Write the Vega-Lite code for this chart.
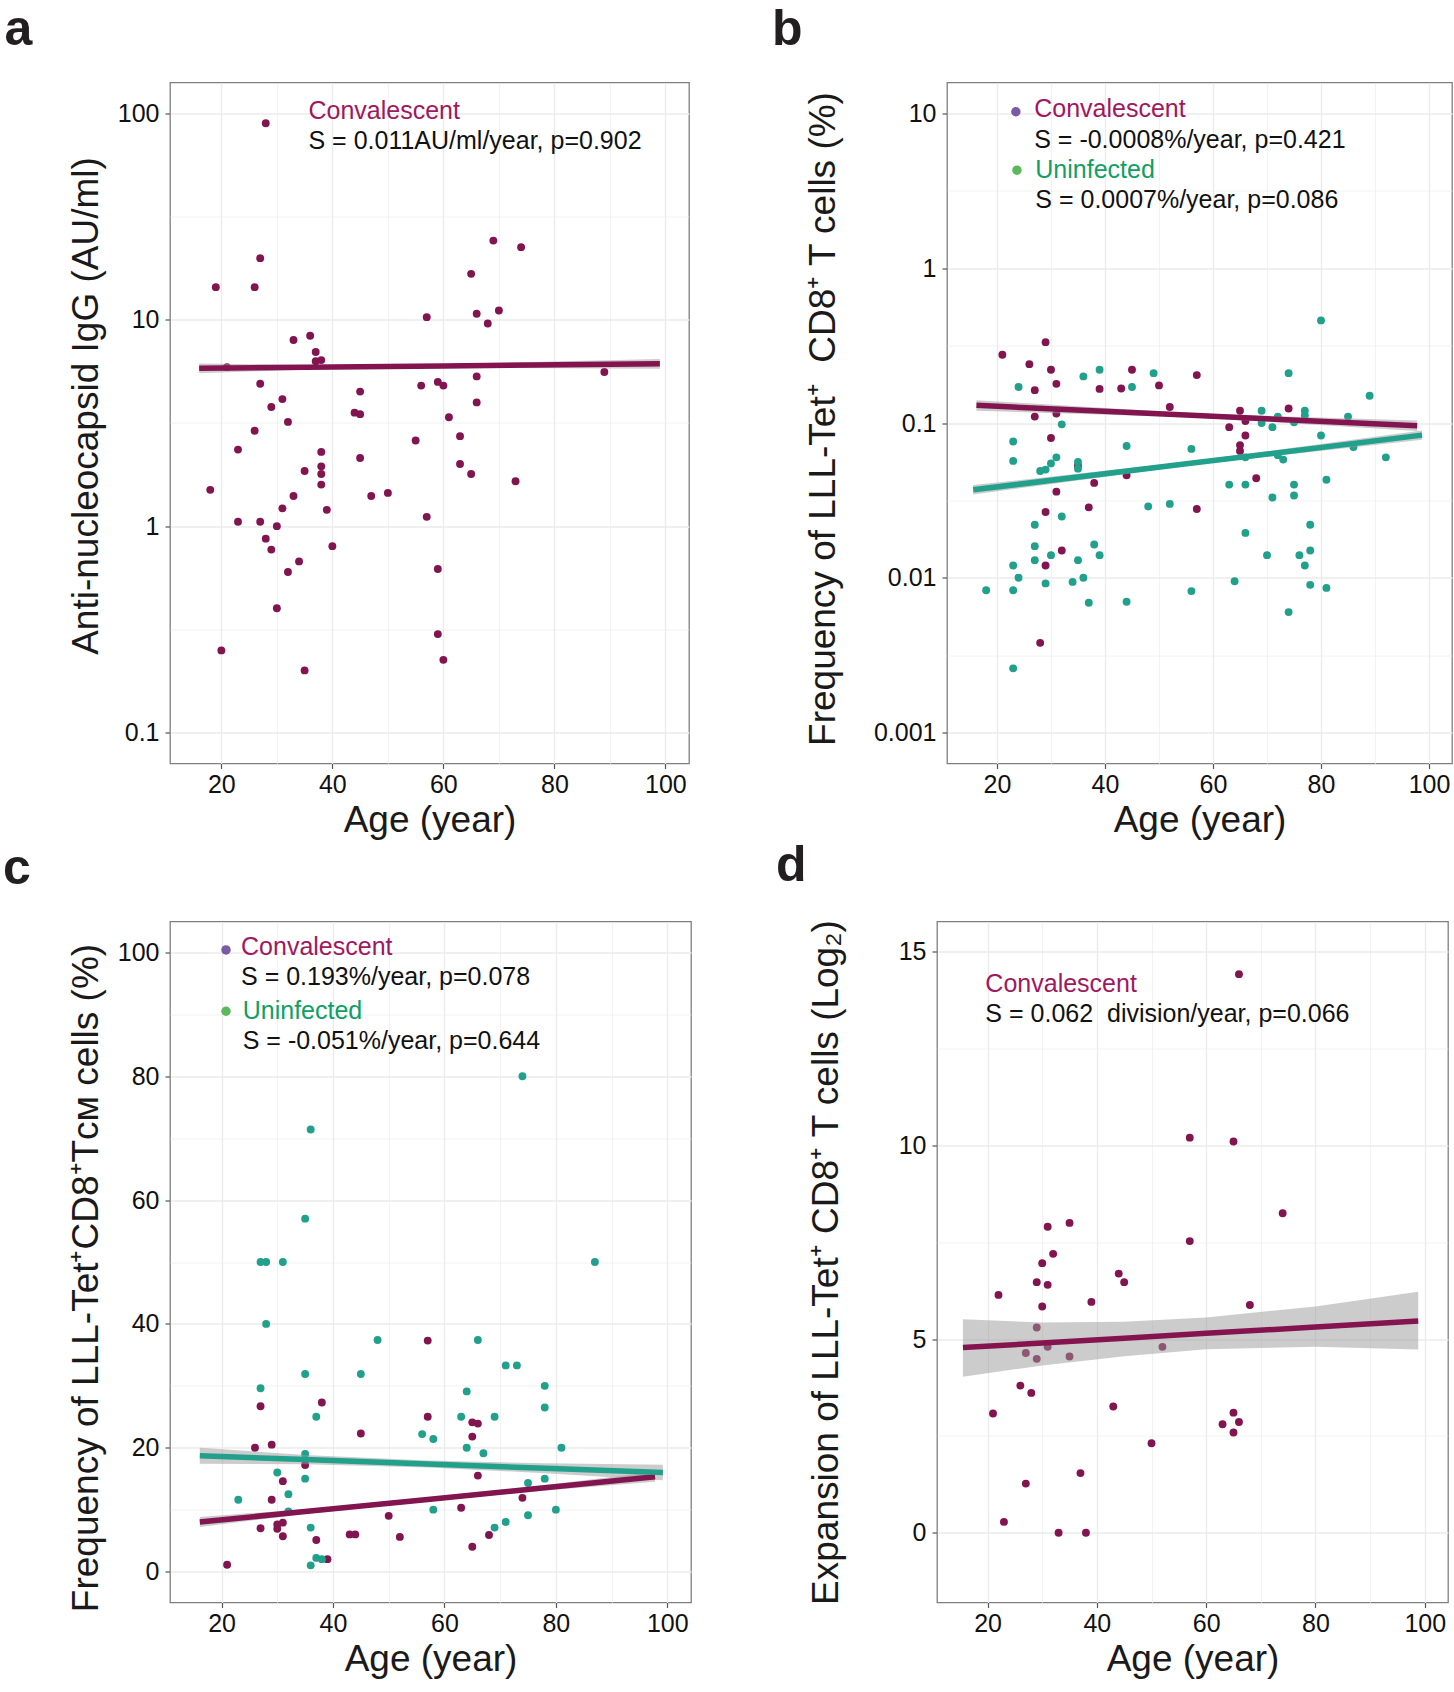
{
  "$schema": "https://vega.github.io/schema/vega-lite/v6.json",
  "background": "white",
  "padding": {"left": 2, "top": 3.5, "right": 0, "bottom": 0},
  "config": {
    "font": "Liberation Sans",
    "view": {"stroke": "#7f7f7f", "strokeWidth": 1.3},
    "axis": {
      "domain": false,
      "labelFont": "Liberation Sans", "labelFontSize": 25, "labelColor": "#111111",
      "titleFont": "Liberation Sans", "titleFontWeight": "normal", "titleColor": "#1a1a1a",
      "tickColor": "#555555", "tickWidth": 1.2, "tickSize": 5,
      "gridColor": "#ebebeb", "labelOverlap": false
    },
    "axisX": {"labelPadding": 4, "titlePadding": 5, "titleFontSize": 37},
    "axisY": {"labelPadding": 6, "titleFontSize": 37},
    "title": {"font": "Liberation Sans", "fontSize": 50, "fontWeight": "bold", "color": "#231f20", "anchor": "start", "frame": "group", "baseline": "alphabetic", "offset": 28}
  },
  "datasets": {
    "a_pts": [
      {"age":28,"igg":89.6},{"age":19,"igg":14.4},{"age":26,"igg":14.4},{"age":27,"igg":19.9},{"age":69,"igg":24.2},{"age":74,"igg":22.5},{"age":65,"igg":16.7},{"age":57,"igg":10.3},{"age":66,"igg":10.7},{"age":70,"igg":11.1},{"age":68,"igg":9.6},{"age":33,"igg":7.98},{"age":36,"igg":8.37},{"age":37,"igg":6.98},{"age":37,"igg":6.3},{"age":38,"igg":6.38},{"age":21,"igg":5.9},{"age":89,"igg":5.59},{"age":27,"igg":4.9},{"age":66,"igg":5.32},{"age":56,"igg":4.8},{"age":59,"igg":5.0},{"age":60,"igg":4.8},{"age":45,"igg":4.49},{"age":31,"igg":4.13},{"age":29,"igg":3.78},{"age":66,"igg":3.98},{"age":32,"igg":3.2},{"age":44,"igg":3.55},{"age":45,"igg":3.49},{"age":61,"igg":3.37},{"age":26,"igg":2.9},{"age":63,"igg":2.73},{"age":23,"igg":2.35},{"age":55,"igg":2.6},{"age":38,"igg":2.29},{"age":45,"igg":2.14},{"age":63,"igg":2.0},{"age":35,"igg":1.85},{"age":38,"igg":1.95},{"age":38,"igg":1.79},{"age":65,"igg":1.79},{"age":73,"igg":1.65},{"age":18,"igg":1.5},{"age":38,"igg":1.59},{"age":33,"igg":1.4},{"age":47,"igg":1.4},{"age":50,"igg":1.45},{"age":31,"igg":1.22},{"age":39,"igg":1.2},{"age":57,"igg":1.11},{"age":23,"igg":1.05},{"age":27,"igg":1.05},{"age":30,"igg":1.0},{"age":28,"igg":0.87},{"age":29,"igg":0.77},{"age":40,"igg":0.8},{"age":34,"igg":0.675},{"age":32,"igg":0.6},{"age":59,"igg":0.62},{"age":30,"igg":0.4},{"age":59,"igg":0.3},{"age":20,"igg":0.25},{"age":60,"igg":0.225},{"age":35,"igg":0.2}
    ],
    "a_fit": [
      {"age":16,"fit":5.83,"lo":5.51,"hi":6.15},{"age":40,"fit":5.91,"lo":5.79,"hi":6.03},{"age":60,"fit":5.98,"lo":5.86,"hi":6.1},{"age":99,"fit":6.12,"lo":5.79,"hi":6.46}
    ],
    "b_pts": [
      {"group":"Convalescent","age":21,"freq":0.276},{"group":"Convalescent","age":29,"freq":0.333},{"group":"Convalescent","age":26,"freq":0.24},{"group":"Convalescent","age":30,"freq":0.221},{"group":"Convalescent","age":27,"freq":0.163},{"group":"Convalescent","age":31,"freq":0.179},{"group":"Convalescent","age":39,"freq":0.166},{"group":"Convalescent","age":43,"freq":0.167},{"group":"Convalescent","age":45,"freq":0.221},{"group":"Convalescent","age":50,"freq":0.175},{"group":"Convalescent","age":57,"freq":0.204},{"group":"Convalescent","age":52,"freq":0.127},{"group":"Convalescent","age":27,"freq":0.11},{"group":"Convalescent","age":31,"freq":0.115},{"group":"Convalescent","age":30,"freq":0.08},{"group":"Convalescent","age":65,"freq":0.12},{"group":"Convalescent","age":66,"freq":0.103},{"group":"Convalescent","age":74,"freq":0.124},{"group":"Convalescent","age":63,"freq":0.094},{"group":"Convalescent","age":66,"freq":0.083},{"group":"Convalescent","age":65,"freq":0.072},{"group":"Convalescent","age":65,"freq":0.066},{"group":"Convalescent","age":35,"freq":0.053},{"group":"Convalescent","age":44,"freq":0.046},{"group":"Convalescent","age":38,"freq":0.041},{"group":"Convalescent","age":68,"freq":0.044},{"group":"Convalescent","age":31,"freq":0.036},{"group":"Convalescent","age":29,"freq":0.0266},{"group":"Convalescent","age":37,"freq":0.0285},{"group":"Convalescent","age":57,"freq":0.0278},{"group":"Convalescent","age":32,"freq":0.015},{"group":"Convalescent","age":29,"freq":0.012},{"group":"Convalescent","age":28,"freq":0.0038},
      {"group":"Uninfected","age":24,"freq":0.171},{"group":"Uninfected","age":36,"freq":0.2},{"group":"Uninfected","age":39,"freq":0.221},{"group":"Uninfected","age":45,"freq":0.171},{"group":"Uninfected","age":49,"freq":0.21},{"group":"Uninfected","age":80,"freq":0.46},{"group":"Uninfected","age":74,"freq":0.21},{"group":"Uninfected","age":89,"freq":0.15},{"group":"Uninfected","age":32,"freq":0.098},{"group":"Uninfected","age":23,"freq":0.076},{"group":"Uninfected","age":69,"freq":0.12},{"group":"Uninfected","age":72,"freq":0.11},{"group":"Uninfected","age":69,"freq":0.1},{"group":"Uninfected","age":71,"freq":0.094},{"group":"Uninfected","age":75,"freq":0.101},{"group":"Uninfected","age":77,"freq":0.12},{"group":"Uninfected","age":77,"freq":0.112},{"group":"Uninfected","age":80,"freq":0.083},{"group":"Uninfected","age":85,"freq":0.11},{"group":"Uninfected","age":44,"freq":0.071},{"group":"Uninfected","age":56,"freq":0.068},{"group":"Uninfected","age":23,"freq":0.0569},{"group":"Uninfected","age":31,"freq":0.06},{"group":"Uninfected","age":30,"freq":0.0548},{"group":"Uninfected","age":28,"freq":0.049},{"group":"Uninfected","age":29,"freq":0.05},{"group":"Uninfected","age":35,"freq":0.056},{"group":"Uninfected","age":35,"freq":0.0507},{"group":"Uninfected","age":86,"freq":0.07},{"group":"Uninfected","age":92,"freq":0.06},{"group":"Uninfected","age":73,"freq":0.058},{"group":"Uninfected","age":72,"freq":0.062},{"group":"Uninfected","age":66,"freq":0.06},{"group":"Uninfected","age":63,"freq":0.04},{"group":"Uninfected","age":66,"freq":0.04},{"group":"Uninfected","age":75,"freq":0.04},{"group":"Uninfected","age":81,"freq":0.043},{"group":"Uninfected","age":75,"freq":0.034},{"group":"Uninfected","age":71,"freq":0.033},{"group":"Uninfected","age":48,"freq":0.0289},{"group":"Uninfected","age":52,"freq":0.03},{"group":"Uninfected","age":32,"freq":0.0249},{"group":"Uninfected","age":27,"freq":0.022},{"group":"Uninfected","age":78,"freq":0.022},{"group":"Uninfected","age":66,"freq":0.0195},{"group":"Uninfected","age":27,"freq":0.016},{"group":"Uninfected","age":38,"freq":0.0164},{"group":"Uninfected","age":30,"freq":0.014},{"group":"Uninfected","age":39,"freq":0.014},{"group":"Uninfected","age":70,"freq":0.014},{"group":"Uninfected","age":76,"freq":0.014},{"group":"Uninfected","age":78,"freq":0.015},{"group":"Uninfected","age":27,"freq":0.013},{"group":"Uninfected","age":35,"freq":0.013},{"group":"Uninfected","age":77,"freq":0.012},{"group":"Uninfected","age":23,"freq":0.012},{"group":"Uninfected","age":24,"freq":0.01},{"group":"Uninfected","age":36,"freq":0.01},{"group":"Uninfected","age":29,"freq":0.0092},{"group":"Uninfected","age":34,"freq":0.0094},{"group":"Uninfected","age":64,"freq":0.0095},{"group":"Uninfected","age":18,"freq":0.0083},{"group":"Uninfected","age":23,"freq":0.0083},{"group":"Uninfected","age":56,"freq":0.0082},{"group":"Uninfected","age":78,"freq":0.009},{"group":"Uninfected","age":81,"freq":0.0086},{"group":"Uninfected","age":37,"freq":0.0069},{"group":"Uninfected","age":44,"freq":0.007},{"group":"Uninfected","age":74,"freq":0.006},{"group":"Uninfected","age":23,"freq":0.0026}
    ],
    "b_fit": [
      {"group":"Convalescent","age":16.2,"fit":0.13,"lo":0.12,"hi":0.1405},{"group":"Convalescent","age":57,"fit":0.1117,"lo":0.1084,"hi":0.115},{"group":"Convalescent","age":97.8,"fit":0.096,"lo":0.0889,"hi":0.1037},
      {"group":"Uninfected","age":15.6,"fit":0.037,"lo":0.0345,"hi":0.0397},{"group":"Uninfected","age":57,"fit":0.0555,"lo":0.0539,"hi":0.0572},{"group":"Uninfected","age":98.7,"fit":0.0835,"lo":0.078,"hi":0.0894}
    ],
    "c_pts": [
      {"group":"Convalescent","age":57,"freq":37.3},{"group":"Convalescent","age":38,"freq":27.3},{"group":"Convalescent","age":27,"freq":26.7},{"group":"Convalescent","age":57,"freq":25.0},{"group":"Convalescent","age":65,"freq":24.1},{"group":"Convalescent","age":66,"freq":23.9},{"group":"Convalescent","age":45,"freq":22.3},{"group":"Convalescent","age":65,"freq":21.8},{"group":"Convalescent","age":26,"freq":20.0},{"group":"Convalescent","age":29,"freq":20.5},{"group":"Convalescent","age":35,"freq":17.2},{"group":"Convalescent","age":66,"freq":15.5},{"group":"Convalescent","age":31,"freq":14.6},{"group":"Convalescent","age":29,"freq":11.6},{"group":"Convalescent","age":74,"freq":11.9},{"group":"Convalescent","age":63,"freq":10.3},{"group":"Convalescent","age":50,"freq":9.0},{"group":"Convalescent","age":30,"freq":7.6},{"group":"Convalescent","age":31,"freq":7.9},{"group":"Convalescent","age":30,"freq":6.9},{"group":"Convalescent","age":27,"freq":7.0},{"group":"Convalescent","age":31,"freq":5.7},{"group":"Convalescent","age":43,"freq":6.0},{"group":"Convalescent","age":44,"freq":6.0},{"group":"Convalescent","age":52,"freq":5.6},{"group":"Convalescent","age":68,"freq":5.9},{"group":"Convalescent","age":37,"freq":5.1},{"group":"Convalescent","age":65,"freq":4.0},{"group":"Convalescent","age":39,"freq":2.0},{"group":"Convalescent","age":21,"freq":1.1},
      {"group":"Uninfected","age":74,"freq":80.0},{"group":"Uninfected","age":36,"freq":71.4},{"group":"Uninfected","age":35,"freq":57.0},{"group":"Uninfected","age":27,"freq":50},{"group":"Uninfected","age":28,"freq":50},{"group":"Uninfected","age":31,"freq":50},{"group":"Uninfected","age":87,"freq":50},{"group":"Uninfected","age":28,"freq":40.0},{"group":"Uninfected","age":48,"freq":37.4},{"group":"Uninfected","age":66,"freq":37.4},{"group":"Uninfected","age":35,"freq":31.9},{"group":"Uninfected","age":45,"freq":31.9},{"group":"Uninfected","age":27,"freq":29.6},{"group":"Uninfected","age":71,"freq":33.3},{"group":"Uninfected","age":73,"freq":33.3},{"group":"Uninfected","age":78,"freq":30.0},{"group":"Uninfected","age":64,"freq":29.1},{"group":"Uninfected","age":78,"freq":26.5},{"group":"Uninfected","age":37,"freq":25.0},{"group":"Uninfected","age":63,"freq":25.0},{"group":"Uninfected","age":69,"freq":25.0},{"group":"Uninfected","age":56,"freq":22.2},{"group":"Uninfected","age":58,"freq":21.4},{"group":"Uninfected","age":64,"freq":20.0},{"group":"Uninfected","age":81,"freq":20.0},{"group":"Uninfected","age":67,"freq":19.1},{"group":"Uninfected","age":35,"freq":19.0},{"group":"Uninfected","age":30,"freq":16.0},{"group":"Uninfected","age":35,"freq":15.0},{"group":"Uninfected","age":78,"freq":15.0},{"group":"Uninfected","age":75,"freq":14.3},{"group":"Uninfected","age":32,"freq":12.5},{"group":"Uninfected","age":23,"freq":11.6},{"group":"Uninfected","age":32,"freq":9.7},{"group":"Uninfected","age":58,"freq":10.0},{"group":"Uninfected","age":80,"freq":10.0},{"group":"Uninfected","age":75,"freq":9.1},{"group":"Uninfected","age":71,"freq":8.0},{"group":"Uninfected","age":69,"freq":7.1},{"group":"Uninfected","age":36,"freq":7.1},{"group":"Uninfected","age":37,"freq":2.2},{"group":"Uninfected","age":38,"freq":2.0},{"group":"Uninfected","age":36,"freq":1.0}
    ],
    "c_fit": [
      {"group":"Convalescent","age":16.1,"fit":8.0,"lo":7.2,"hi":8.8},{"group":"Convalescent","age":35,"fit":9.69,"lo":9.3,"hi":10.08},{"group":"Convalescent","age":57,"fit":11.65,"lo":11.3,"hi":12.0},{"group":"Convalescent","age":78,"fit":13.53,"lo":13.1,"hi":13.96},{"group":"Convalescent","age":97.8,"fit":15.3,"lo":14.5,"hi":16.1},
      {"group":"Uninfected","age":16.1,"fit":18.7,"lo":17.4,"hi":20.0},{"group":"Uninfected","age":35,"fit":18.09,"lo":17.34,"hi":18.84},{"group":"Uninfected","age":57,"fit":17.37,"lo":16.82,"hi":17.92},{"group":"Uninfected","age":78,"fit":16.69,"lo":15.89,"hi":17.49},{"group":"Uninfected","age":99.2,"fit":16.0,"lo":14.75,"hi":17.25}
    ],
    "d_pts": [
      {"age":66,"expn":14.42},{"age":57,"expn":10.2},{"age":65,"expn":10.1},{"age":74,"expn":8.25},{"age":31,"expn":7.9},{"age":35,"expn":8.0},{"age":57,"expn":7.53},{"age":32,"expn":7.2},{"age":30,"expn":6.96},{"age":29,"expn":6.47},{"age":31,"expn":6.4},{"age":44,"expn":6.69},{"age":45,"expn":6.47},{"age":22,"expn":6.14},{"age":39,"expn":5.96},{"age":30,"expn":5.84},{"age":68,"expn":5.88},{"age":29,"expn":5.3},{"age":27,"expn":4.64},{"age":31,"expn":4.8},{"age":29,"expn":4.49},{"age":35,"expn":4.55},{"age":52,"expn":4.8},{"age":26,"expn":3.8},{"age":28,"expn":3.61},{"age":21,"expn":3.08},{"age":43,"expn":3.26},{"age":65,"expn":3.1},{"age":63,"expn":2.8},{"age":66,"expn":2.86},{"age":65,"expn":2.59},{"age":50,"expn":2.31},{"age":37,"expn":1.54},{"age":27,"expn":1.27},{"age":23,"expn":0.28},{"age":33,"expn":0.0},{"age":38,"expn":0.0}
    ],
    "d_fit": [
      {"age":15.5,"fit":4.78,"lo":4.03,"hi":5.51},{"age":30,"fit":4.9,"lo":4.32,"hi":5.43},{"age":45,"fit":5.02,"lo":4.56,"hi":5.45},{"age":60,"fit":5.15,"lo":4.74,"hi":5.56},{"age":80,"fit":5.31,"lo":4.8,"hi":5.84},{"age":98.8,"fit":5.47,"lo":4.73,"hi":6.22}
    ]
  },
  "spacing": 0,
  "vconcat": [
    {
      "spacing": 81,
      "hconcat": [
        {
          "width": 519, "height": 681,
          "title": {"text": "a", "dx": -165.5},
          "layer": [
            {
              "data": {"name": "a_pts"},
              "mark": {"type": "circle", "size": 62, "opacity": 1, "color": "#82154F"},
              "encoding": {
                "x": {"field": "age", "type": "quantitative", "scale": {"domain": [10.75, 104.25], "nice": false, "zero": false},
                  "axis": {"title": "Age (year)", "values": [20,30,40,50,60,70,80,90,100], "labelExpr": "datum.value % 20 === 0 ? datum.label : ''",
                    "gridWidth": {"condition": {"test": "datum.value % 20 === 0", "value": 1.3}, "value": 0.65},
                    "tickOpacity": {"condition": {"test": "datum.value % 20 === 0", "value": 1}, "value": 0}}},
                "y": {"field": "igg", "type": "quantitative", "scale": {"type": "log", "domain": [0.07079, 141.25], "nice": false},
                  "axis": {"title": "Anti-nucleocapsid IgG (AU/ml)", "titlePadding": 12, "titleY": 323, "values": [0.1, 0.31623, 1, 3.1623, 10, 31.623, 100], "format": "~g",
                    "labelExpr": "abs(log(datum.value)/LN10 - round(log(datum.value)/LN10)) < 0.01 ? datum.label : ''",
                    "gridWidth": {"condition": {"test": "abs(log(datum.value)/LN10 - round(log(datum.value)/LN10)) < 0.01", "value": 1.3}, "value": 0.65},
                    "tickOpacity": {"condition": {"test": "abs(log(datum.value)/LN10 - round(log(datum.value)/LN10)) < 0.01", "value": 1}, "value": 0}}}
              }
            },
            {
              "data": {"name": "a_fit"},
              "mark": {"type": "area", "color": "#999999", "opacity": 0.5},
              "encoding": {"x": {"field": "age", "type": "quantitative"}, "y": {"field": "lo", "type": "quantitative"}, "y2": {"field": "hi"}}
            },
            {
              "data": {"name": "a_fit"},
              "mark": {"type": "line", "color": "#84144F", "strokeWidth": 5.5},
              "encoding": {"x": {"field": "age", "type": "quantitative"}, "y": {"field": "fit", "type": "quantitative"}}
            },
            {
              "data": {"values": [{}]},
              "mark": {"type": "text", "align": "left", "baseline": "alphabetic", "fontSize": 25, "font": "Liberation Sans", "color": "#A01860"},
              "encoding": {"x": {"datum": 35.7, "type": "quantitative"}, "y": {"datum": 93.8, "type": "quantitative"}, "text": {"value": "Convalescent"}}
            },
            {
              "data": {"values": [{}]},
              "mark": {"type": "text", "align": "left", "baseline": "alphabetic", "fontSize": 25, "font": "Liberation Sans", "color": "#111111"},
              "encoding": {"x": {"datum": 35.7, "type": "quantitative"}, "y": {"datum": 67.0, "type": "quantitative"}, "text": {"value": "S = 0.011AU/ml/year, p=0.902"}}
            }
          ]
        },
        {
          "width": 505, "height": 681,
          "title": {"text": "b", "dx": -175},
          "layer": [
            {
              "data": {"name": "b_pts"},
              "mark": {"type": "circle", "size": 62, "opacity": 1},
              "encoding": {
                "x": {"field": "age", "type": "quantitative", "scale": {"domain": [10.75, 104.25], "nice": false, "zero": false},
                  "axis": {"title": "Age (year)", "values": [20,30,40,50,60,70,80,90,100], "labelExpr": "datum.value % 20 === 0 ? datum.label : ''",
                    "gridWidth": {"condition": {"test": "datum.value % 20 === 0", "value": 1.3}, "value": 0.65},
                    "tickOpacity": {"condition": {"test": "datum.value % 20 === 0", "value": 1}, "value": 0}}},
                "y": {"field": "freq", "type": "quantitative", "scale": {"type": "log", "domain": [0.000631, 15.85], "nice": false},
                  "axis": {"title": "Frequency of LLL-Tet⁺\u00a0 CD8⁺ T cells (%)", "titlePadding": 31, "titleY": 336, "values": [0.001, 0.0031623, 0.01, 0.031623, 0.1, 0.31623, 1, 3.1623, 10], "format": "~g",
                    "labelExpr": "abs(log(datum.value)/LN10 - round(log(datum.value)/LN10)) < 0.01 ? datum.label : ''",
                    "gridWidth": {"condition": {"test": "abs(log(datum.value)/LN10 - round(log(datum.value)/LN10)) < 0.01", "value": 1.3}, "value": 0.65},
                    "tickOpacity": {"condition": {"test": "abs(log(datum.value)/LN10 - round(log(datum.value)/LN10)) < 0.01", "value": 1}, "value": 0}}},
                "color": {"field": "group", "type": "nominal", "scale": {"domain": ["Convalescent", "Uninfected"], "range": ["#82154F", "#21A08C"]}, "legend": null}
              }
            },
            {
              "data": {"name": "b_fit"},
              "mark": {"type": "area", "color": "#999999", "opacity": 0.5},
              "encoding": {"x": {"field": "age", "type": "quantitative"}, "y": {"field": "lo", "type": "quantitative"}, "y2": {"field": "hi"}, "detail": {"field": "group"}}
            },
            {
              "data": {"name": "b_fit"},
              "mark": {"type": "line", "strokeWidth": 5.5},
              "encoding": {"x": {"field": "age", "type": "quantitative"}, "y": {"field": "fit", "type": "quantitative"}, "color": {"field": "group", "type": "nominal", "legend": null}}
            },
            {
              "data": {"values": [{}]},
              "mark": {"type": "circle", "size": 90, "opacity": 1, "color": "#7A5BA3"},
              "encoding": {"x": {"datum": 23.5, "type": "quantitative"}, "y": {"datum": 10.26, "type": "quantitative"}}
            },
            {
              "data": {"values": [{}]},
              "mark": {"type": "text", "align": "left", "baseline": "alphabetic", "fontSize": 25, "font": "Liberation Sans", "color": "#A01860"},
              "encoding": {"x": {"datum": 26.9, "type": "quantitative"}, "y": {"datum": 9.42, "type": "quantitative"}, "text": {"value": "Convalescent"}}
            },
            {
              "data": {"values": [{}]},
              "mark": {"type": "text", "align": "left", "baseline": "alphabetic", "fontSize": 25, "font": "Liberation Sans", "color": "#111111"},
              "encoding": {"x": {"datum": 26.9, "type": "quantitative"}, "y": {"datum": 6.0, "type": "quantitative"}, "text": {"value": "S = -0.0008%/year, p=0.421"}}
            },
            {
              "data": {"values": [{}]},
              "mark": {"type": "circle", "size": 90, "opacity": 1, "color": "#5CB85C"},
              "encoding": {"x": {"datum": 23.7, "type": "quantitative"}, "y": {"datum": 4.3, "type": "quantitative"}}
            },
            {
              "data": {"values": [{}]},
              "mark": {"type": "text", "align": "left", "baseline": "alphabetic", "fontSize": 25, "font": "Liberation Sans", "color": "#10A064"},
              "encoding": {"x": {"datum": 27.1, "type": "quantitative"}, "y": {"datum": 3.85, "type": "quantitative"}, "text": {"value": "Uninfected"}}
            },
            {
              "data": {"values": [{}]},
              "mark": {"type": "text", "align": "left", "baseline": "alphabetic", "fontSize": 25, "font": "Liberation Sans", "color": "#111111"},
              "encoding": {"x": {"datum": 27.1, "type": "quantitative"}, "y": {"datum": 2.46, "type": "quantitative"}, "text": {"value": "S = 0.0007%/year, p=0.086"}}
            }
          ]
        }
      ]
    },
    {
      "spacing": 83,
      "hconcat": [
        {
          "width": 521, "height": 681,
          "title": {"text": "c", "dx": -167},
          "layer": [
            {
              "data": {"name": "c_pts"},
              "mark": {"type": "circle", "size": 62, "opacity": 1},
              "encoding": {
                "x": {"field": "age", "type": "quantitative", "scale": {"domain": [10.75, 104.25], "nice": false, "zero": false},
                  "axis": {"title": "Age (year)", "values": [20,30,40,50,60,70,80,90,100], "labelExpr": "datum.value % 20 === 0 ? datum.label : ''",
                    "gridWidth": {"condition": {"test": "datum.value % 20 === 0", "value": 1.3}, "value": 0.65},
                    "tickOpacity": {"condition": {"test": "datum.value % 20 === 0", "value": 1}, "value": 0}}},
                "y": {"field": "freq", "type": "quantitative", "scale": {"domain": [-5, 105], "nice": false, "zero": false},
                  "axis": {"title": "Frequency of LLL-Tet⁺CD8⁺Tᴄᴍ cells (%)", "titlePadding": 12, "titleY": 356, "values": [0,10,20,30,40,50,60,70,80,90,100],
                    "labelExpr": "datum.value % 20 === 0 ? datum.label : ''",
                    "gridWidth": {"condition": {"test": "datum.value % 20 === 0", "value": 1.3}, "value": 0.65},
                    "tickOpacity": {"condition": {"test": "datum.value % 20 === 0", "value": 1}, "value": 0}}},
                "color": {"field": "group", "type": "nominal", "scale": {"domain": ["Convalescent", "Uninfected"], "range": ["#82154F", "#21A08C"]}, "legend": null}
              }
            },
            {
              "data": {"name": "c_fit"},
              "mark": {"type": "area", "color": "#999999", "opacity": 0.5},
              "encoding": {"x": {"field": "age", "type": "quantitative"}, "y": {"field": "lo", "type": "quantitative"}, "y2": {"field": "hi"}, "detail": {"field": "group"}}
            },
            {
              "data": {"name": "c_fit"},
              "mark": {"type": "line", "strokeWidth": 5.5},
              "encoding": {"x": {"field": "age", "type": "quantitative"}, "y": {"field": "fit", "type": "quantitative"}, "color": {"field": "group", "type": "nominal", "legend": null}}
            },
            {
              "data": {"values": [{}]},
              "mark": {"type": "circle", "size": 90, "opacity": 1, "color": "#7A5BA3"},
              "encoding": {"x": {"datum": 20.8, "type": "quantitative"}, "y": {"datum": 100.4, "type": "quantitative"}}
            },
            {
              "data": {"values": [{}]},
              "mark": {"type": "text", "align": "left", "baseline": "alphabetic", "fontSize": 25, "font": "Liberation Sans", "color": "#A01860"},
              "encoding": {"x": {"datum": 23.5, "type": "quantitative"}, "y": {"datum": 99.6, "type": "quantitative"}, "text": {"value": "Convalescent"}}
            },
            {
              "data": {"values": [{}]},
              "mark": {"type": "text", "align": "left", "baseline": "alphabetic", "fontSize": 25, "font": "Liberation Sans", "color": "#111111"},
              "encoding": {"x": {"datum": 23.5, "type": "quantitative"}, "y": {"datum": 94.7, "type": "quantitative"}, "text": {"value": "S = 0.193%/year, p=0.078"}}
            },
            {
              "data": {"values": [{}]},
              "mark": {"type": "circle", "size": 90, "opacity": 1, "color": "#5CB85C"},
              "encoding": {"x": {"datum": 20.8, "type": "quantitative"}, "y": {"datum": 90.5, "type": "quantitative"}}
            },
            {
              "data": {"values": [{}]},
              "mark": {"type": "text", "align": "left", "baseline": "alphabetic", "fontSize": 25, "font": "Liberation Sans", "color": "#10A064"},
              "encoding": {"x": {"datum": 23.8, "type": "quantitative"}, "y": {"datum": 89.3, "type": "quantitative"}, "text": {"value": "Uninfected"}}
            },
            {
              "data": {"values": [{}]},
              "mark": {"type": "text", "align": "left", "baseline": "alphabetic", "fontSize": 25, "font": "Liberation Sans", "color": "#111111"},
              "encoding": {"x": {"datum": 23.8, "type": "quantitative"}, "y": {"datum": 84.4, "type": "quantitative"}, "text": {"value": "S = -0.051%/year, p=0.644"}}
            }
          ]
        },
        {
          "width": 511, "height": 681,
          "title": {"text": "d", "dx": -161},
          "layer": [
            {
              "data": {"name": "d_pts"},
              "mark": {"type": "circle", "size": 62, "opacity": 1, "color": "#82154F"},
              "encoding": {
                "x": {"field": "age", "type": "quantitative", "scale": {"domain": [10.75, 104.25], "nice": false, "zero": false},
                  "axis": {"title": "Age (year)", "values": [20,30,40,50,60,70,80,90,100], "labelExpr": "datum.value % 20 === 0 ? datum.label : ''",
                    "gridWidth": {"condition": {"test": "datum.value % 20 === 0", "value": 1.3}, "value": 0.65},
                    "tickOpacity": {"condition": {"test": "datum.value % 20 === 0", "value": 1}, "value": 0}}},
                "y": {"field": "expn", "type": "quantitative", "scale": {"domain": [-1.8, 15.78], "nice": false, "zero": false},
                  "axis": {"title": "Expansion of LLL-Tet⁺ CD8⁺ T cells (Log₂)", "titlePadding": 53, "values": [0, 2.5, 5, 7.5, 10, 12.5, 15],
                    "labelExpr": "datum.value % 5 === 0 ? datum.label : ''",
                    "gridWidth": {"condition": {"test": "datum.value % 5 === 0", "value": 1.3}, "value": 0.65},
                    "tickOpacity": {"condition": {"test": "datum.value % 5 === 0", "value": 1}, "value": 0}}}
              }
            },
            {
              "data": {"name": "d_fit"},
              "mark": {"type": "area", "color": "#999999", "opacity": 0.5},
              "encoding": {"x": {"field": "age", "type": "quantitative"}, "y": {"field": "lo", "type": "quantitative"}, "y2": {"field": "hi"}}
            },
            {
              "data": {"name": "d_fit"},
              "mark": {"type": "line", "color": "#84144F", "strokeWidth": 5.5},
              "encoding": {"x": {"field": "age", "type": "quantitative"}, "y": {"field": "fit", "type": "quantitative"}}
            },
            {
              "data": {"values": [{}]},
              "mark": {"type": "text", "align": "left", "baseline": "alphabetic", "fontSize": 25, "font": "Liberation Sans", "color": "#A01860"},
              "encoding": {"x": {"datum": 19.6, "type": "quantitative"}, "y": {"datum": 13.97, "type": "quantitative"}, "text": {"value": "Convalescent"}}
            },
            {
              "data": {"values": [{}]},
              "mark": {"type": "text", "align": "left", "baseline": "alphabetic", "fontSize": 25, "font": "Liberation Sans", "color": "#111111"},
              "encoding": {"x": {"datum": 19.6, "type": "quantitative"}, "y": {"datum": 13.19, "type": "quantitative"}, "text": {"value": "S = 0.062\u00a0 division/year, p=0.066"}}
            }
          ]
        }
      ]
    }
  ]
}
